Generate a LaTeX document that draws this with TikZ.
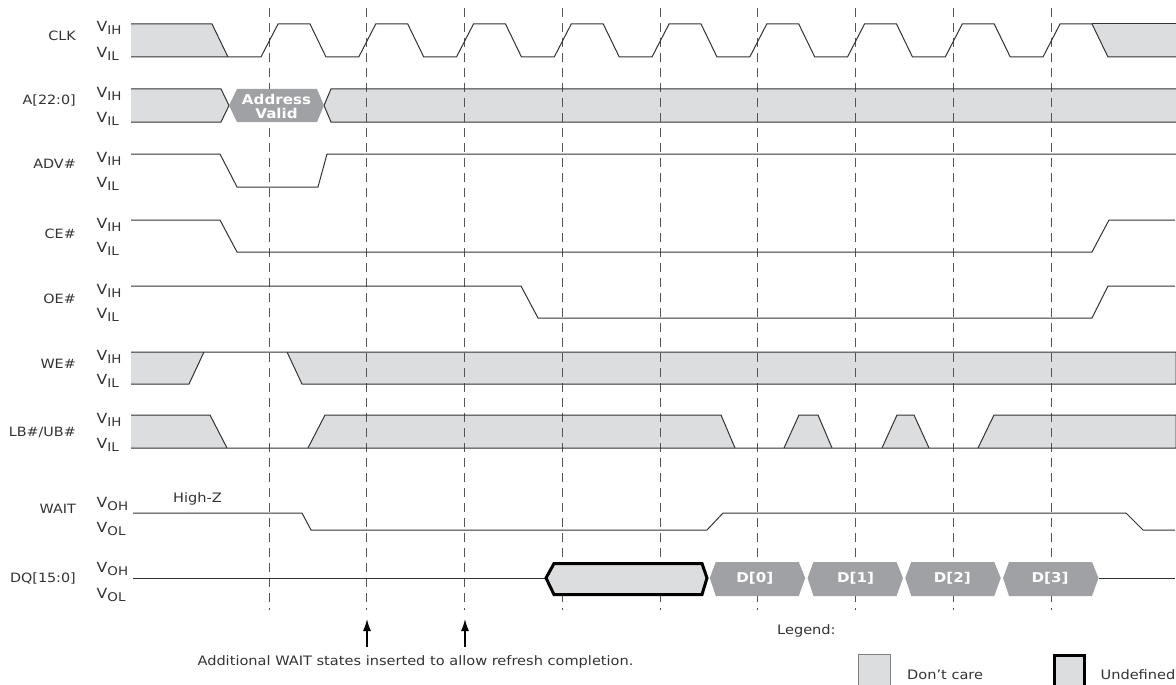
\documentclass[tikz,border=0pt]{standalone}
\usepackage{fontspec}
\setmainfont[FakeStretch=1.12]{DejaVu Sans}
\usetikzlibrary{arrows.meta}
\definecolor{lg}{HTML}{DCDDDF}
\definecolor{dg}{HTML}{A0A1A4}
\definecolor{ln}{HTML}{333333}
\definecolor{dl}{HTML}{555555}
\definecolor{tx}{HTML}{333333}
\newcommand{\lvtxt}[1]{V\raisebox{-3pt}{\fontsize{12}{12}\selectfont #1}}
\newcommand{\sigrow}[8]{%
  \node[sname] (n-#1) at (76,#3) {#2};
  \node[lvl] (h-#1) at (96.5,#4) {\lvtxt{#5}};
  \node[lvl] (l-#1) at (96.5,#6) {\lvtxt{#7}};
}
\begin{document}
\begin{tikzpicture}[x=1pt,y=-1pt,
  sig/.style={draw=ln,line width=1pt,line join=miter},
  grid/.style={draw=dl,line width=1pt,dash pattern=on 9pt off 6pt},
  sname/.style={anchor=east,font=\fontsize{12.8}{14}\selectfont,text=tx,inner sep=0pt},
  lvl/.style={anchor=base west,font=\fontsize{14}{14}\selectfont,text=tx,inner sep=0pt},
  htxt/.style={text=white,font=\bfseries\fontsize{13.5}{14}\selectfont,inner sep=0pt,align=center},
  ntxt/.style={text=tx,font=\fontsize{13}{14}\selectfont,inner sep=0pt},
]
\useasboundingbox (0,0) rectangle (1176,685);
\fill[white] (0,0) rectangle (1176,685);

% row labels
\sigrow{clk}{CLK}{36}{32}{IH}{57.5}{IL}{}
\sigrow{a}{A[22:0]}{100}{97}{IH}{122.5}{IL}{}
\sigrow{adv}{ADV\#}{164}{162}{IH}{187.5}{IL}{}
\sigrow{ce}{CE\#}{234}{228}{IH}{252.5}{IL}{}
\sigrow{oe}{OE\#}{299}{294}{IH}{318.5}{IL}{}
\sigrow{we}{WE\#}{364}{360}{IH}{384.5}{IL}{}
\sigrow{lb}{LB\#/UB\#}{432}{423}{IH}{448.5}{IL}{}
\sigrow{wait}{WAIT}{509}{507}{OH}{532}{OL}{}
\sigrow{dq}{DQ[15:0]}{578}{572}{OH}{598}{OL}{}

% don't-care fills
\fill[lg] (131,24)--(212,24)--(228,57)--(131,57)--cycle;
\fill[lg] (1092,24)--(1176,24)--(1176,57)--(1108,57)--cycle;
\fill[lg] (131,89)--(221,89)--(229,105.5)--(221,122)--(131,122)--cycle;
\fill[lg] (324,105.5)--(331,89)--(1176,89)--(1176,122)--(331,122)--cycle;
\fill[lg] (131,352)--(204,352)--(189,384)--(131,384)--cycle;
\fill[lg] (287,352)--(1176,352)--(1176,384)--(302,384)--cycle;
\fill[lg] (131,415)--(210,415)--(227,448)--(131,448)--cycle;
\fill[lg] (308,448)--(325,415)--(721,415)--(735,448)--cycle;
\fill[lg] (784,448)--(799,415)--(818,415)--(832,448)--cycle;
\fill[lg] (882,448)--(897,415)--(914,415)--(929,448)--cycle;
\fill[lg] (978,448)--(994,415)--(1176,415)--(1176,448)--cycle;

% clock grid
\foreach \i in {0,...,8} \draw[grid] ({269+97.75*\i},8) -- ({269+97.75*\i},610);

% CLK
\draw[sig] (131,24)--(212,24)--(228,57);
\draw[sig] (131,57) \foreach \i in {0,...,8}{ -- ({261+97.75*\i},57) -- ({278+97.75*\i},24) -- ({310+97.75*\i},24) -- ({326+97.75*\i},57)} -- (1176,57);
\draw[sig] (1092,24)--(1176,24);

% A[22:0]
\draw[sig] (131,89)--(221,89)--(229,105.5)--(221,122)--(131,122);
\draw[sig] (1176,89)--(331,89)--(324,105.5)--(331,122)--(1176,122);
\fill[dg] (229,105.5)--(237,89)--(317,89)--(324,105.5)--(317,122)--(237,122)--cycle;
\node[htxt] (addr) at (276.5,106) {Address\\Valid};

% ADV#
\draw[sig] (131,154)--(220,154)--(237,187)--(318,187)--(327,154)--(1176,154);
% CE#
\draw[sig] (131,220)--(220,220)--(237,252)--(1092,252)--(1109,220)--(1175,220);
% OE#
\draw[sig] (131,286)--(521,286)--(538,318)--(1092,318)--(1108,286)--(1175,286);
% WE#
\draw[sig] (131,352)--(1176,352)--(1176,384)--(302,384)--(287,352);
\draw[sig] (131,384)--(189,384)--(204,352);
% LB#/UB#
\draw[sig] (131,448)--(1176,448)--(1176,415)--(994,415)--(978,448);
\draw[sig] (131,415)--(210,415)--(227,448);
\draw[sig] (308,448)--(325,415)--(721,415)--(735,448);
\draw[sig] (784,448)--(799,415)--(818,415)--(832,448);
\draw[sig] (882,448)--(897,415)--(914,415)--(929,448);
% WAIT
\draw[sig] (133,513)--(302,513)--(311,530)--(707,530)--(723,513)--(1126,513)--(1143,530)--(1175,530);
\node[ntxt] (hiz) at (197.5,499) {High-Z};
% DQ
\draw[sig] (133,578)--(546,578);
\draw[black,line width=3pt,fill=lg,line join=miter] (546,578)--(554,563.5)--(702,563.5)--(707,578)--(702,594.5)--(554,594.5)--cycle;
\foreach \k/\lab/\dx in {0/D[0]/-3,1/D[1]/0,2/D[2]/-1,3/D[3]/-1}{
  \pgfmathsetmacro{\dd}{757.75+97.75*\k}
  \fill[dg] ({\dd-48},578)--({\dd-42},562)--({\dd+41},562)--({\dd+47.5},578)--({\dd+41},596)--({\dd-42},596)--cycle;
  \node[htxt] (d\k) at ({\dd+\dx},578) {\lab};
}
\draw[sig] (1099,578)--(1175,578);

% arrows
\coordinate (a1s) at (367,647); \coordinate (a1e) at (367,619);
\coordinate (a2s) at (465,647); \coordinate (a2e) at (465,619);
\draw[black,line width=1.3pt,-{Latex[length=12pt,width=8pt]}] (a1s)--(a1e);
\draw[black,line width=1.3pt,-{Latex[length=12pt,width=8pt]}] (a2s)--(a2e);
\node[ntxt,anchor=base] (note) at (415.5,665) {Additional WAIT states inserted to allow refresh completion.};

% legend
\node[ntxt,anchor=base west] (leg) at (777,634) {Legend:};
\draw[draw=gray,line width=1pt,fill=lg] (858.5,654.5) rectangle (890.5,700);
\node[ntxt,anchor=base west] (dcare) at (907,679) {Don't care};
\draw[black,line width=3pt,fill=lg] (1054.5,655.5) rectangle (1084.5,700);
\node[ntxt,anchor=base east] (undef) at (1175.5,679) {Undefined};
\end{tikzpicture}
\end{document}
